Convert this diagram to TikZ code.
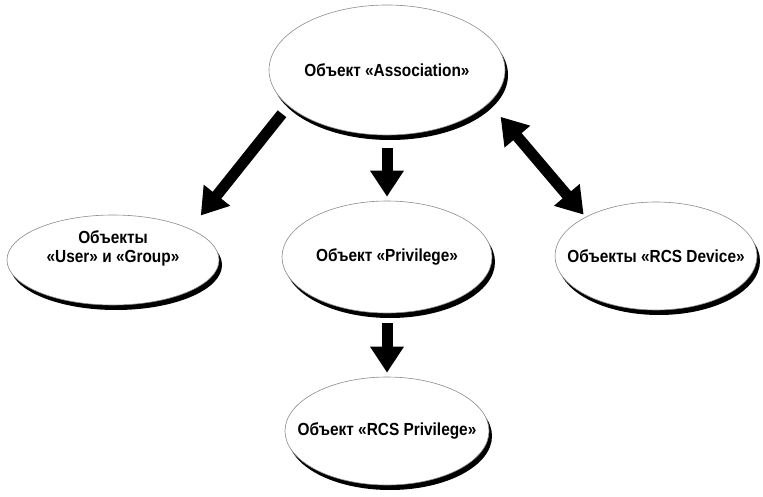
\documentclass[tikz,border=0pt]{standalone}
\usepackage{fontspec}
\setmainfont{Liberation Sans}[FakeStretch=0.88]
\usetikzlibrary{shapes.geometric, shadows, arrows.meta}

\begin{document}
\begin{tikzpicture}[
    x=1pt, y=-1pt,
    every node/.style={font=\bfseries\fontsize{17.5}{19}\selectfont},
    obj/.style={ellipse, draw=black!45, line width=0.6pt, fill=white, inner sep=0pt,
                drop shadow={shadow xshift=3pt, shadow yshift=-5pt, fill=black, opacity=1}},
    txt/.style={align=center, inner sep=0pt},
    arr/.style={-{Triangle[width=32pt, length=26pt]}, line width=11pt},
    dblarr/.style={{Triangle[width=32pt, length=26pt]}-{Triangle[width=32pt, length=26pt]}, line width=11pt}
]
    \useasboundingbox (0,0) rectangle (763,497);

    \node[obj, minimum width=236pt, minimum height=130pt,
          label={[txt]center:Объект «Association»}] (assoc) at (387,70) {};
    \node[obj, minimum width=212pt, minimum height=90pt,
          label={[txt, yshift=12pt]center:Объекты\\«User» и «Group»}] (user) at (113,260) {};
    \node[obj, minimum width=210pt, minimum height=112pt,
          label={[txt]center:Объект «Privilege»}] (priv) at (387,257) {};
    \node[obj, minimum width=202pt, minimum height=108pt,
          label={[txt]center:Объекты «RCS Device»}] (device) at (656,256) {};
    \node[obj, minimum width=204pt, minimum height=108pt,
          label={[txt]center:Объект «RCS Privilege»}] (rcspriv) at (387,431) {};

    \draw[arr, shorten <=10pt, shorten >=17pt] (assoc.200) -- (user.22);
    \draw[arr, shorten <=13pt, shorten >=4pt] (assoc) -- (priv);
    \draw[dblarr, shorten <=18pt, shorten >=3pt] (assoc.342) -- (device.151);
    \draw[arr, shorten <=10pt, shorten >=4pt] (priv) -- (rcspriv);
\end{tikzpicture}
\end{document}
